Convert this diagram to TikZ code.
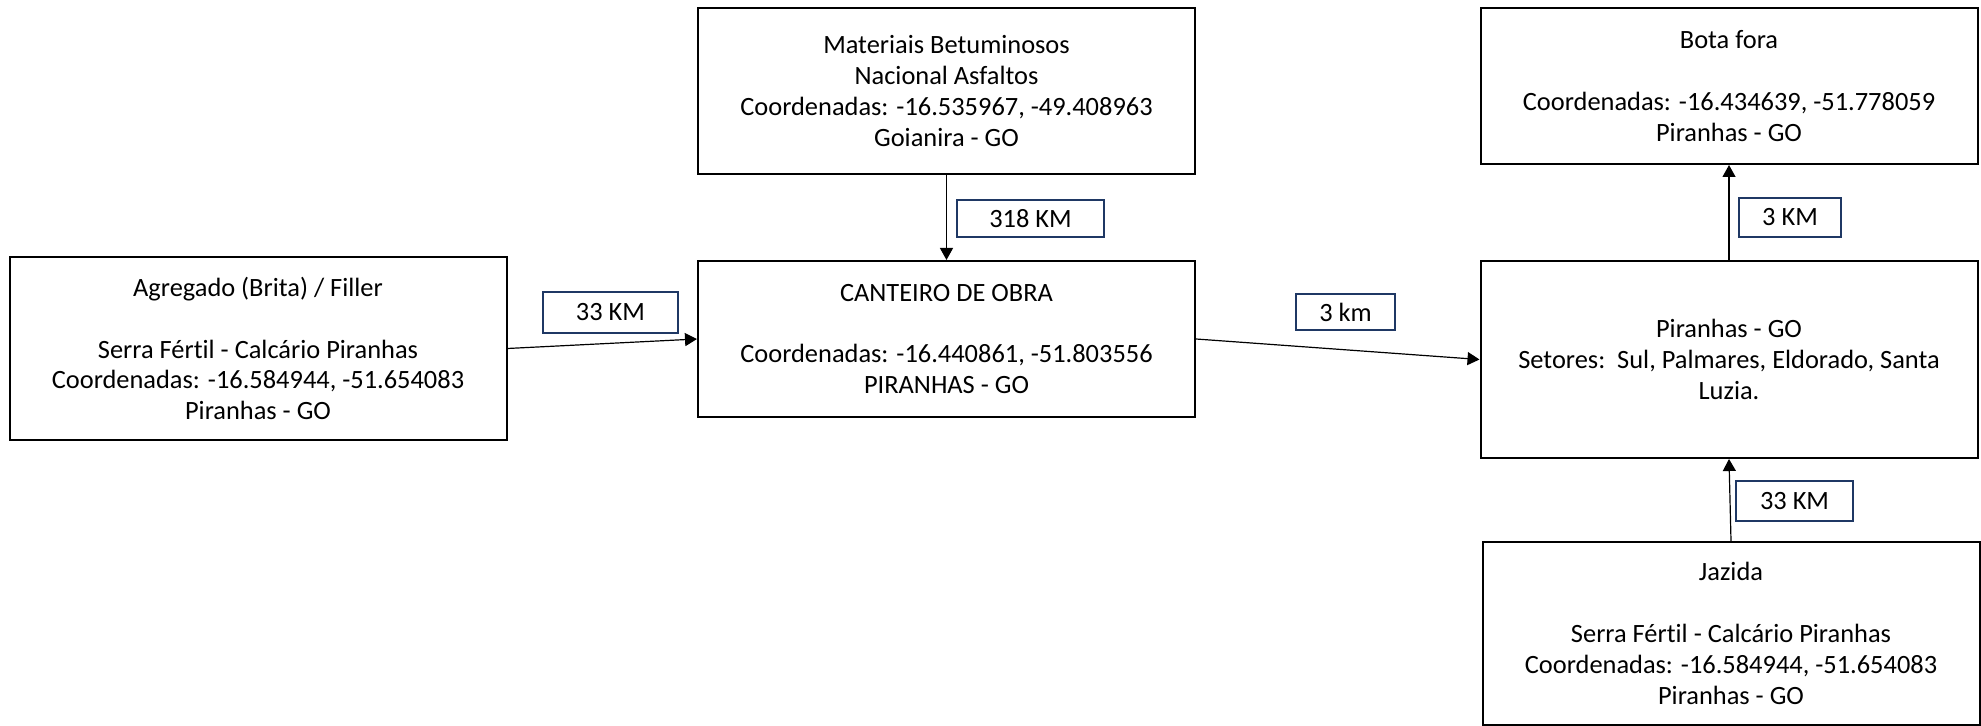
\documentclass[tikz,border=0pt]{standalone}
\usepackage{fontspec}
\setmainfont[Ligatures=NoCommon]{Carlito}
\usetikzlibrary{arrows.meta}
\definecolor{kmblue}{RGB}{31,56,100}
\begin{document}
\begin{tikzpicture}[x=0.5pt,y=-0.5pt]
\tikzstyle{place}=[rectangle,draw,line width=1pt,minimum width=248.5pt,align=center,inner sep=0pt,
  font=\fontsize{13.2}{15.4}\selectfont]
\tikzstyle{km}=[rectangle,draw=kmblue,line width=1pt,inner sep=0pt,font=\fontsize{13.2}{15.4}\selectfont]
\tikzstyle{route}=[line width=0.6pt,-{Triangle[length=6pt,width=6.5pt]}]
\useasboundingbox (0,0) rectangle (1981,726);
\node[place,minimum height=91.5pt] (agregado) at (258,348.5)
  {Agregado (Brita) / Filler\\[15.4pt]Serra Fértil - Calcário Piranhas\\Coordenadas: -16.584944, -51.654083\\Piranhas - GO};
\node[place,minimum height=83pt] (betume) at (946.5,91)
  {Materiais Betuminosos\\Nacional Asfaltos\\Coordenadas: -16.535967, -49.408963\\Goianira - GO};
\node[place,minimum height=78pt] (canteiro) at (946.5,339)
  {CANTEIRO DE OBRA\\[15.4pt]Coordenadas: -16.440861, -51.803556\\PIRANHAS - GO};
\node[place,minimum height=78pt] (botafora) at (1729,86)
  {Bota fora\\[15.4pt]Coordenadas: -16.434639, -51.778059\\Piranhas - GO};
\node[place,minimum height=98.5pt] (setores) at (1729,359.5)
  {Piranhas - GO\\Setores:\ \ Sul, Palmares, Eldorado, Santa\\Luzia.};
\node[place,minimum height=91.5pt] (jazida) at (1731,633.5)
  {Jazida\\[15.4pt]Serra Fértil - Calcário Piranhas\\Coordenadas: -16.584944, -51.654083\\Piranhas - GO};
\node[km,minimum width=67.5pt,minimum height=20.5pt] (km33a) at (610.5,312.5) {33 KM};
\node[km,minimum width=73.5pt,minimum height=18.5pt] (km318) at (1030.5,218.5) {318 KM};
\node[km,minimum width=49.5pt,minimum height=18pt] (km3a) at (1345.5,312) {3 km};
\node[km,minimum width=51pt,minimum height=19.5pt] (km3b) at (1790,217.5) {3 KM};
\node[km,minimum width=58.5pt,minimum height=20pt] (km33b) at (1794.5,501) {33 KM};
\draw[route] (agregado.east) -- (canteiro.west);
\draw[route] (betume.south) -- (canteiro.north);
\draw[route] (canteiro.east) -- (setores.west);
\draw[route] (setores.north) -- (botafora.south);
\draw[route] (jazida.north) -- (setores.south);
\end{tikzpicture}
\end{document}
